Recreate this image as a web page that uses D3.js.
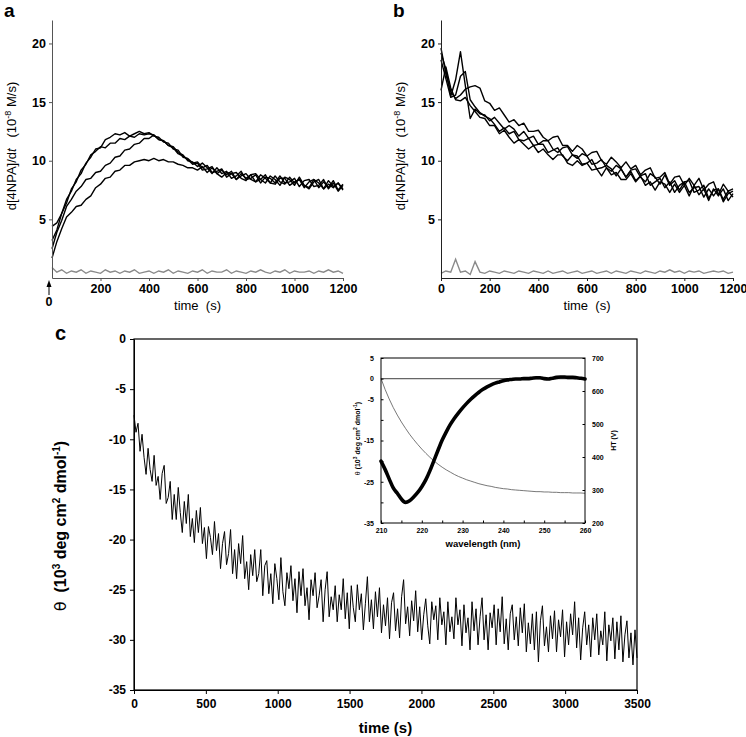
<!DOCTYPE html>
<html><head><meta charset="utf-8">
<script src="https://cdn.jsdelivr.net/npm/d3@7"></script>
<style>body{margin:0;background:#fff}svg{display:block}</style>
</head><body><svg id="c" width="746" height="737"></svg>
<script>
// ---------------- DATA ----------------
// panels a & b: sampled every 20 s from 0 to 1200 s
const timeAB = d3.range(0, 1201, 20);
const tracesA = [
 [4.4,4.7,5.5,6.7,7.4,8.4,8.9,9.8,10.3,11.0,11.1,11.8,12.0,12.3,12.2,12.4,12.1,12.3,12.5,12.3,12.4,12.1,12.0,11.6,11.5,11.0,10.9,10.3,10.2,9.8,
  9.9,9.4,9.6,9.0,9.1,9.3,8.6,8.9,9.0,8.5,8.3,8.8,8.9,8.4,8.1,8.7,8.4,7.9,8.6,8.4,7.9,8.6,7.9,7.7,8.4,8.1,7.6,8.3,7.8,8.1,7.6],
 [3.2,4.1,5.5,6.4,7.6,8.2,9.2,9.7,10.5,10.8,11.2,11.1,11.5,11.5,11.9,11.8,12.1,12.0,12.3,12.2,12.3,12.2,11.8,11.7,11.3,11.2,10.7,10.5,10.0,9.9,
  9.5,9.8,9.4,8.9,9.4,8.9,9.1,8.5,8.7,9.1,8.4,8.5,8.8,8.1,8.6,8.5,8.1,8.7,8.1,8.2,8.5,7.8,8.3,8.4,7.8,7.9,8.4,7.6,8.1,7.4,7.9],
 [2.5,3.9,4.9,6.1,6.7,7.4,7.8,8.4,8.5,9.0,9.1,9.6,9.8,10.3,10.4,10.9,11.0,11.4,11.5,11.9,11.9,12.2,11.8,11.7,11.3,11.1,10.6,10.4,10.1,9.7,
  9.8,9.2,9.3,9.5,8.9,9.2,8.8,9.1,8.4,8.7,8.9,8.4,8.2,8.8,8.5,8.1,8.7,8.2,8.0,8.6,8.1,8.4,7.7,8.2,8.4,7.7,8.2,7.7,8.3,7.5,8.0],
 [1.7,3.1,4.2,5.2,5.6,6.1,6.2,6.7,7.0,7.7,8.0,8.5,8.6,9.1,9.2,9.6,9.6,9.9,10.0,10.1,10.0,10.2,10.0,10.1,9.9,9.9,9.7,9.6,9.4,9.4,
  9.2,9.5,9.0,9.4,8.9,8.6,9.0,8.9,8.4,8.9,8.5,8.8,8.2,8.4,8.8,8.1,8.0,8.5,8.5,7.9,8.2,8.4,7.9,7.6,8.2,8.4,7.6,8.0,7.7,8.1,7.5]
];
const baseA = [0.9,0.5,0.7,0.4,0.6,0.5,0.7,0.4,0.6,0.5,0.4,0.7,0.5,0.6,0.4,0.6,0.5,0.7,0.4,0.5,0.6,0.4,0.6,0.5,0.7,0.4,0.6,0.5,0.4,0.6,0.5,0.7,0.4,0.6,0.5,0.5,0.7,0.4,0.6,0.5,0.4,0.6,0.5,0.7,0.5,0.4,0.6,0.5,0.7,0.4,0.6,0.5,0.5,0.6,0.4,0.6,0.5,0.7,0.5,0.6,0.4];
const tracesB = [
 [19.6,17.4,15.9,15.3,15.6,16.1,16.3,16.4,16.2,15.1,14.9,14.3,14.5,13.9,13.3,13.5,13.0,13.2,12.5,12.5,12.6,12.0,11.7,12.0,12.1,11.3,11.3,10.8,11.3,11.0,10.4,10.7,10.8,10.0,9.7,10.3,9.9,9.4,9.9,9.3,9.6,8.8,9.2,9.4,8.5,8.6,9.0,8.0,8.6,8.7,7.9,8.5,7.9,8.5,7.5,8.0,8.2,7.1,8.0,7.4,7.6],
 [19.2,17.8,15.5,16.9,19.3,16.4,13.6,14.4,14.0,13.9,13.4,13.7,13.2,12.7,13.0,12.7,12.1,12.5,11.9,12.1,11.4,11.7,11.7,11.0,10.7,11.1,11.2,10.5,10.2,10.6,10.4,9.7,9.8,10.1,9.4,9.1,9.6,9.3,8.6,9.2,9.3,8.6,8.2,8.9,8.6,8.0,8.8,7.9,8.3,7.5,8.2,8.3,7.3,7.5,7.9,6.8,7.5,7.6,6.7,7.4,6.9],
 [18.6,17.0,15.4,15.6,17.2,17.6,15.2,14.6,14.1,13.8,13.6,13.1,12.5,12.8,12.3,12.5,11.8,11.7,11.9,11.3,11.4,11.4,10.7,10.9,11.1,10.4,10.0,10.5,10.4,9.7,9.8,10.1,9.3,9.4,9.6,9.3,8.7,9.3,8.6,9.1,8.3,8.7,8.9,7.9,8.2,8.5,7.7,8.2,7.3,7.9,8.2,7.3,7.7,7.8,6.9,7.6,7.0,7.6,6.5,7.2,7.4],
 [16.0,18.0,16.2,15.2,15.1,15.4,14.7,14.2,13.7,13.6,13.0,13.0,12.3,12.6,12.0,11.5,11.8,11.4,11.0,11.3,10.7,11.0,10.5,10.1,10.5,10.5,9.8,9.6,10.0,9.6,9.8,9.2,9.3,8.7,9.4,8.8,9.0,8.4,8.4,8.9,8.2,8.7,7.9,8.2,7.5,8.2,8.0,7.3,8.0,7.3,7.9,7.0,7.9,7.1,7.6,6.6,7.6,7.0,7.6,6.6,7.2]
];
const baseB = [0.4,0.6,0.5,1.6,0.5,0.6,0.3,1.4,0.5,0.4,0.6,0.5,0.4,0.6,0.5,0.4,0.6,0.5,0.4,0.6,0.5,0.4,0.6,0.4,0.5,0.6,0.4,0.5,0.6,0.4,0.5,0.6,0.4,0.5,0.6,0.4,0.6,0.5,0.4,0.6,0.5,0.4,0.6,0.5,0.4,0.6,0.5,0.7,0.5,0.6,0.4,0.6,0.5,0.6,0.4,0.5,0.6,0.5,0.6,0.4,0.5];
const yTicksAB = [5,10,15,20];
const xTicksA = [200,400,600,800,1000,1200];
const xTicksB = [0,200,400,600,800,1000,1200];

// panel c: sampled every 14 s from 0 to 3500 s
const timeC = d3.range(0, 3501, 14);
const thetaC = [
 -7.6,-9.3,-8.4,-11.2,-9.5,-11.8,-13.5,-10.9,-13.0,-14.2,
 -11.6,-14.6,-13.7,-16.0,-13.4,-12.6,-16.4,-15.8,-14.2,-18.0,
 -15.5,-18.0,-14.8,-17.3,-19.3,-16.2,-18.4,-15.5,-19.7,-17.9,
 -20.3,-17.1,-19.3,-16.8,-20.4,-18.8,-21.9,-18.7,-19.8,-21.5,
 -18.2,-21.1,-19.4,-22.9,-20.4,-19.2,-22.5,-21.4,-19.0,-23.4,
 -21.0,-23.9,-20.4,-22.4,-19.6,-23.9,-22.2,-25.0,-21.5,-23.6,
 -21.0,-24.2,-23.4,-21.0,-25.6,-22.6,-22.1,-25.4,-23.4,-26.4,
 -22.4,-23.9,-26.0,-21.8,-25.2,-26.6,-23.3,-24.9,-22.6,-26.1,
 -23.9,-27.3,-23.2,-25.6,-22.9,-26.6,-24.8,-28.0,-24.0,-25.6,
 -23.3,-26.8,-25.6,-24.0,-28.2,-25.0,-23.2,-27.7,-25.7,-27.0,
 -24.6,-28.2,-25.5,-27.0,-23.9,-27.9,-25.3,-28.9,-24.6,-26.8,
 -28.2,-24.5,-27.0,-25.4,-29.0,-26.4,-23.7,-28.2,-26.0,-28.9,
 -25.2,-27.7,-24.8,-29.3,-26.5,-28.6,-25.8,-29.9,-26.3,-25.3,
 -29.1,-26.9,-29.8,-25.7,-24.0,-28.4,-26.7,-29.6,-26.1,-28.1,
 -25.1,-29.2,-26.7,-30.0,-27.5,-25.9,-28.6,-30.4,-26.2,-28.0,
 -26.6,-30.0,-25.8,-28.5,-27.2,-30.5,-26.2,-29.2,-27.7,-29.9,
 -25.8,-28.5,-27.0,-30.6,-26.5,-29.3,-27.8,-31.0,-26.2,-29.1,
 -26.9,-30.5,-27.7,-25.8,-30.0,-27.5,-31.0,-27.3,-28.8,-26.5,
 -30.5,-26.9,-29.2,-25.7,-30.4,-27.9,-31.0,-27.4,-26.5,-30.0,
 -27.7,-30.6,-26.8,-29.3,-26.4,-31.2,-28.3,-30.4,-27.4,-31.0,
 -27.2,-32.2,-28.1,-26.6,-30.6,-28.7,-31.2,-27.6,-29.9,-27.1,
 -31.2,-28.0,-29.7,-27.0,-31.7,-28.2,-30.5,-27.4,-29.5,-26.2,
 -30.8,-27.8,-32.0,-28.8,-27.2,-30.5,-28.5,-31.7,-27.8,-30.0,
 -27.4,-31.5,-29.1,-30.5,-27.2,-32.1,-28.5,-30.1,-27.8,-31.9,
 -28.2,-31.0,-27.6,-32.2,-29.5,-28.1,-31.8,-29.3,-32.5,-29.0,
 -31.8
];
const yTicksC = [-35,-30,-25,-20,-15,-10,-5,0];
const xTicksC = [0,500,1000,1500,2000,2500,3000,3500];

// inset: CD spectrum and HT voltage, 210-260 nm every 1 nm
const wavelength = d3.range(210, 261, 1);
const cdTheta = [-20.0,-22.0,-24.3,-26.5,-27.8,-29.2,-30.0,-29.6,-28.7,-27.6,-26.2,-24.5,-22.3,-19.8,-17.3,-14.9,-12.9,-11.1,-9.6,-8.3,-7.1,-6.0,-5.0,-4.1,-3.3,-2.6,-2.0,-1.5,-1.1,-0.8,-0.5,-0.3,-0.2,-0.1,-0.1,0.0,0.0,0.1,0.2,0.2,0.0,-0.1,0.1,0.3,0.4,0.4,0.3,0.3,0.2,0.1,-0.1];
const htVolt = [638,605,576,550,527,506,487,469,453,438,424,411,399,388,378,369,361,354,347,341,336,331,327,323,319,316,313,311,308,306,304,303,301,300,299,298,297,296,295,295,294,294,293,293,292,292,292,291,291,291,290];
const insetYTicks = [5,0,-5,-10,-15,-20,-25,-30,-35];
const insetYLabels = [5,0,-5,-15,-25,-35];
const insetHTTicks = [200,300,400,500,600,700];
const insetXTicks = [210,220,230,240,250,260];

// ---------------- DRAWING ----------------
const FONT = "'Liberation Sans', Arial, Helvetica, sans-serif";
const svg = d3.select("#c").style("font-family", FONT);

function styleAxis(g, size, color){
  g.selectAll("path.domain").attr("stroke", color);
  g.selectAll(".tick line").attr("stroke", color);
  g.selectAll(".tick text").attr("font-family", FONT).attr("font-size", size).attr("font-weight","bold").attr("fill","#000");
}

function kinetics(xr, traces, base, xTicks, axisColor, letter, letterX, ylabX){
  const x = d3.scaleLinear([0,1200], xr);
  const y = d3.scaleLinear([0,22], [278,20]);
  const g = svg.append("g");
  const line = d3.line().x((d,i)=>x(timeAB[i])).y(d=>y(d));
  g.append("path").datum(base).attr("d",line).attr("fill","none").attr("stroke","#8a8a8a").attr("stroke-width",1.4);
  traces.forEach(t => g.append("path").datum(t).attr("d",line).attr("fill","none")
      .attr("stroke","#000").attr("stroke-width",1.4).attr("stroke-linejoin","round"));
  const ya = g.append("g").attr("transform",`translate(${xr[0]},0)`)
    .call(d3.axisLeft(y).tickValues(yTicksAB).tickSize(3).tickSizeOuter(0).tickPadding(3).tickFormat(d=>String(d)));
  styleAxis(ya, 12.5, axisColor);
  const xa = g.append("g").attr("transform",`translate(0,${y(0)})`)
    .call(d3.axisBottom(x).tickValues(xTicks).tickSize(3).tickSizeOuter(0).tickPadding(3).tickFormat(d=>String(d)));
  styleAxis(xa, 12.5, axisColor);
  g.append("text").attr("x",(xr[0]+xr[1])/2).attr("y",310).attr("text-anchor","middle")
    .attr("font-size",13).text("time\u00a0\u00a0(s)");
  g.append("text").attr("x",letterX).attr("y",17).attr("font-size",19).attr("font-weight","bold").text(letter);
  const yl = g.append("text").attr("transform",`translate(${ylabX},146) rotate(-90)`).attr("text-anchor","middle").attr("font-size",13);
  yl.append("tspan").text("d[4NPA]/d");
  yl.append("tspan").attr("font-style","italic").text("t");
  yl.append("tspan").text("\u00a0\u00a0\u00a0(10");
  yl.append("tspan").attr("font-size",9).attr("dy",-5).text("-8");
  yl.append("tspan").attr("dy",5).text(" M/s)");
  return {x, y, g};
}

const pa = kinetics([52,343], tracesA, baseA, xTicksA, "#555", "a", 4, 16);
// "0" with arrow marking the start in panel a
pa.g.append("text").attr("x",pa.x(0)-3).attr("y",306).attr("text-anchor","middle")
  .attr("font-size",12.5).attr("font-weight","bold").text("0");
pa.g.append("line").attr("x1",pa.x(0)-3).attr("x2",pa.x(0)-3).attr("y1",295).attr("y2",284).attr("stroke","#000").attr("stroke-width",1);
pa.g.append("path").attr("d",`M${pa.x(0)-5.5},${287}L${pa.x(0)-3},${280}L${pa.x(0)-0.5},${287}Z`).attr("fill","#000");

kinetics([441,733], tracesB, baseB, xTicksB, "#222", "b", 393, 405);

// ---- panel c ----
const xc = d3.scaleLinear([0,3500],[134,637]);
const yc = d3.scaleLinear([-35,0],[690,339]);
const gc = svg.append("g");
gc.append("path").datum(thetaC).attr("fill","none").attr("stroke","#000").attr("stroke-width",1)
  .attr("stroke-linejoin","round")
  .attr("d", d3.line().x((d,i)=>xc(timeC[i])).y(d=>yc(d)));
gc.append("rect").attr("x",xc(0)).attr("y",yc(0)).attr("width",xc(3500)-xc(0)).attr("height",yc(-35)-yc(0))
  .attr("fill","none").attr("stroke","#000").attr("stroke-width",1.2);
const yac = gc.append("g").attr("transform",`translate(${xc(0)},0)`)
  .call(d3.axisLeft(yc).tickValues(yTicksC).tickSize(4).tickSizeOuter(0).tickPadding(4).tickFormat(d=>String(d)));
styleAxis(yac, 12, "#000");
const xac = gc.append("g").attr("transform",`translate(0,${yc(-35)})`)
  .call(d3.axisBottom(xc).tickValues(xTicksC).tickSize(4).tickSizeOuter(0).tickPadding(5).tickFormat(d=>String(d)));
styleAxis(xac, 12, "#000");
gc.append("text").attr("x",(xc(0)+xc(3500))/2).attr("y",733).attr("text-anchor","middle")
  .attr("font-size",15).attr("font-weight","bold").text("time (s)");
gc.append("text").attr("x",55).attr("y",340).attr("font-size",20).attr("font-weight","bold").text("c");
{
  const t = gc.append("text").attr("transform","translate(66,526) rotate(-90)").attr("text-anchor","middle")
    .attr("font-size",16).attr("font-weight","bold");
  t.append("tspan").attr("font-weight","normal").attr("font-family","'DejaVu Sans', sans-serif").text("θ");
  t.append("tspan").text("\u00a0\u00a0(10");
  t.append("tspan").attr("font-size",10).attr("dy",-6).text("3");
  t.append("tspan").attr("dy",6).text(" deg cm");
  t.append("tspan").attr("font-size",10).attr("dy",-6).text("2");
  t.append("tspan").attr("dy",6).text(" dmol");
  t.append("tspan").attr("font-size",10).attr("dy",-6).text("-1");
  t.append("tspan").attr("dy",6).text(")");
}

// ---- inset ----
const xi = d3.scaleLinear([210,260],[381,585]);
const yi = d3.scaleLinear([-35,5],[523,358]);
const yh = d3.scaleLinear([200,700],[523,358]);
const gi = svg.append("g");
gi.append("line").attr("x1",xi(210)).attr("x2",xi(260)).attr("y1",yi(0)).attr("y2",yi(0))
  .attr("stroke","#666").attr("stroke-width",1.3);
gi.append("path").datum(htVolt).attr("fill","none").attr("stroke","#555").attr("stroke-width",0.8)
  .attr("d", d3.line().x((d,i)=>xi(wavelength[i])).y(d=>yh(d)));
gi.append("path").datum(cdTheta).attr("fill","none").attr("stroke","#000").attr("stroke-width",3.6)
  .attr("stroke-linejoin","round").attr("stroke-linecap","round")
  .attr("d", d3.line().curve(d3.curveMonotoneX).x((d,i)=>xi(wavelength[i])).y(d=>yi(d)));
gi.append("rect").attr("x",xi(210)).attr("y",yi(5)).attr("width",xi(260)-xi(210)).attr("height",yi(-35)-yi(5))
  .attr("fill","none").attr("stroke","#000").attr("stroke-width",1);
const yai = gi.append("g").attr("transform",`translate(${xi(210)},0)`)
  .call(d3.axisLeft(yi).tickValues(insetYTicks).tickSize(-2.5).tickSizeOuter(0).tickPadding(7)
    .tickFormat(d => insetYLabels.includes(d) ? String(d) : ""));
styleAxis(yai, 7, "#000");
const yhi = gi.append("g").attr("transform",`translate(${xi(260)},0)`)
  .call(d3.axisRight(yh).tickValues(insetHTTicks).tickSize(-2.5).tickSizeOuter(0).tickPadding(7).tickFormat(d=>String(d)));
styleAxis(yhi, 7, "#000");
const xai = gi.append("g").attr("transform",`translate(0,${yi(-35)})`)
  .call(d3.axisBottom(xi).tickValues(d3.range(210,261,5)).tickSize(-2.5).tickSizeOuter(0).tickPadding(5)
    .tickFormat(d => insetXTicks.includes(d) ? String(d) : ""));
styleAxis(xai, 7, "#000");
gi.selectAll("path.domain").remove();
gi.append("text").attr("x",(xi(210)+xi(260))/2).attr("y",547).attr("text-anchor","middle")
  .attr("font-size",9.5).attr("font-weight","bold").text("wavelength (nm)");
gi.append("text").attr("transform",`translate(616,${(yi(5)+yi(-35))/2}) rotate(-90)`).attr("text-anchor","middle")
  .attr("font-size",7).attr("font-weight","bold").text("HT (V)");
{
  const t = gi.append("text").attr("transform",`translate(360,${(yi(5)+yi(-35))/2 - 2}) rotate(-90)`).attr("text-anchor","middle")
    .attr("font-size",7).attr("font-weight","bold");
  t.append("tspan").attr("font-weight","normal").text("θ");
  t.append("tspan").text("\u00a0(10");
  t.append("tspan").attr("font-size",5).attr("dy",-3).text("3");
  t.append("tspan").attr("dy",3).text(" deg cm");
  t.append("tspan").attr("font-size",5).attr("dy",-3).text("2");
  t.append("tspan").attr("dy",3).text(" dmol");
  t.append("tspan").attr("font-size",5).attr("dy",-3).text("-1");
  t.append("tspan").attr("dy",3).text(")");
}
</script></body></html>
